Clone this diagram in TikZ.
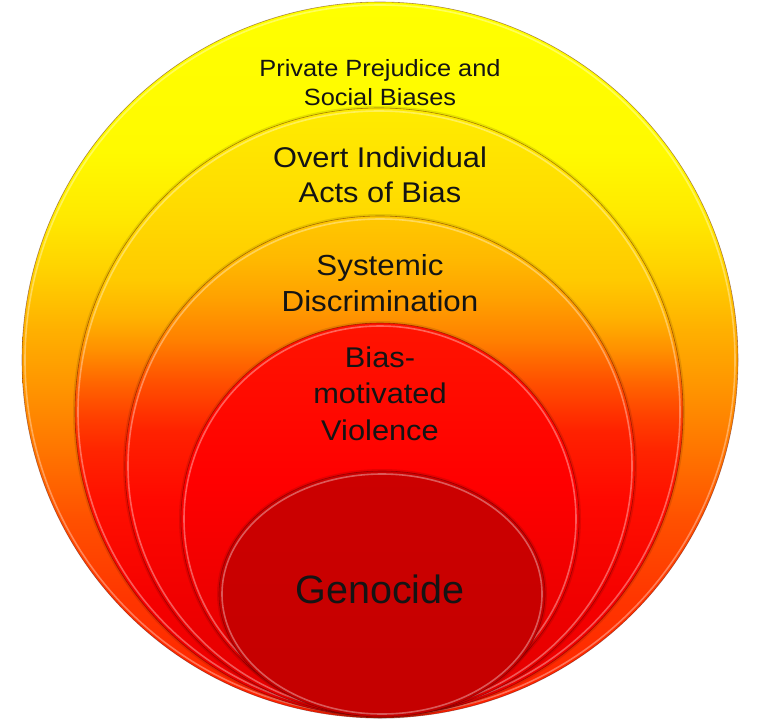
\documentclass[tikz,border=0pt]{standalone}
\usepackage{fontspec}
\setmainfont{Liberation Sans}
\newfontfamily\stretchsans[FakeStretch=1.08]{Liberation Sans}
\newcommand\lstack[2]{\vtop{\baselineskip=#1\lineskiplimit=-100pt\halign{\hfil##\hfil\cr#2\crcr}}}
\newcommand\lblfont[1]{\stretchsans\fontsize{#1}{#1}\selectfont}
\pgfdeclareverticalshading{shA}{100bp}{rgb(0bp)=(1,.125,0); rgb(25bp)=(1,.125,0); rgb(33.2bp)=(1,.208,0); rgb(38.8bp)=(1,.314,0); rgb(43.7bp)=(1,.459,0); rgb(48.6bp)=(1,.596,0); rgb(52.1bp)=(1,.69,0); rgb(56.3bp)=(1,.824,0); rgb(59.8bp)=(1,.91,0); rgb(64.5bp)=(1,.98,0); rgb(75bp)=(1,1,0); rgb(100bp)=(1,1,0)}
\pgfdeclareverticalshading{shB}{100bp}{rgb(0bp)=(.91,0,0); rgb(25bp)=(.91,0,0); rgb(34.5bp)=(.961,0,0); rgb(42.8bp)=(1,.063,0); rgb(46.9bp)=(1,.145,0); rgb(49.6bp)=(1,.251,0); rgb(52.4bp)=(1,.396,0); rgb(55.1bp)=(1,.565,0); rgb(57.8bp)=(1,.698,0); rgb(60.9bp)=(1,.792,0); rgb(67.4bp)=(1,.863,0); rgb(75bp)=(1,.925,0); rgb(100bp)=(1,.925,0)}
\pgfdeclareverticalshading{shC}{100bp}{rgb(0bp)=(.878,0,0); rgb(25bp)=(.878,0,0); rgb(36.6bp)=(.941,0,0); rgb(46.6bp)=(1,.031,0); rgb(53.6bp)=(1,.133,0); rgb(58.6bp)=(1,.322,0); rgb(62.6bp)=(1,.502,0); rgb(66.6bp)=(1,.627,0); rgb(70.6bp)=(1,.722,0); rgb(75bp)=(1,.784,0); rgb(100bp)=(1,.784,0)}
\pgfdeclareverticalshading{shD}{100bp}{rgb(0bp)=(.847,0,0); rgb(25bp)=(.847,0,0); rgb(35bp)=(.91,0,0); rgb(55bp)=(1,0,0); rgb(75bp)=(1,.078,0); rgb(100bp)=(1,.078,0)}
\pgfdeclareverticalshading{shE}{100bp}{rgb(0bp)=(.77,0,0); rgb(25bp)=(.77,0,0); rgb(75bp)=(.80,0,0); rgb(100bp)=(.80,0,0)}
\begin{document}
\begin{tikzpicture}[x=1pt,y=-1pt,
  rimline/.style={draw=black!70!red, draw opacity=0.45, line width=0.6},
  hilite/.style={draw=white, draw opacity=0.35, line width=1.6},
  dropshadow/.style={fill=black, fill opacity=0.10},
  lbl/.style={anchor=base, inner sep=0pt, text=black!92}]
\useasboundingbox (0,0) rectangle (759,720);
% circle 1
\shade[shading=shA] (380,360) ellipse [x radius=358, y radius=358];
\draw[rimline] (380,360) ellipse [x radius=358, y radius=358];
\draw[hilite] (380,360) ellipse [x radius=355, y radius=355];
% circle 2
\fill[dropshadow] (379,412) ellipse [x radius=306, y radius=306];
\shade[shading=shB] (379,412) ellipse [x radius=304, y radius=304];
\draw[rimline] (379,412) ellipse [x radius=304, y radius=304];
\draw[hilite] (379,412) ellipse [x radius=301, y radius=301];
% circle 3
\fill[dropshadow] (380,466) ellipse [x radius=257, y radius=252];
\shade[shading=shC] (380,466) ellipse [x radius=255, y radius=250];
\draw[rimline] (380,466) ellipse [x radius=255, y radius=250];
\draw[hilite] (380,466) ellipse [x radius=252, y radius=247];
% circle 4
\fill[dropshadow] (380,519) ellipse [x radius=201, y radius=198];
\shade[shading=shD] (380,519) ellipse [x radius=199, y radius=196];
\draw[rimline] (380,519) ellipse [x radius=199, y radius=196];
\draw[hilite] (380,519) ellipse [x radius=196, y radius=193];
% circle 5
\fill[dropshadow] (382,594) ellipse [x radius=165, y radius=125];
\shade[shading=shE] (382,594) ellipse [x radius=163, y radius=123];
\draw[rimline] (382,594) ellipse [x radius=163, y radius=123];
\draw[hilite] (382,594) ellipse [x radius=160, y radius=120];
% labels
\node[lbl, font=\lblfont{23.5}] (l1) at (380,76) {\lstack{29pt}{Private Prejudice and\cr Social Biases}};
\node[lbl, font=\lblfont{28.5}] (l2) at (380,167) {\lstack{35pt}{Overt Individual\cr Acts of Bias}};
\node[lbl, font=\lblfont{29}] (l3) at (380,275) {\lstack{36pt}{Systemic\cr Discrimination}};
\node[lbl, font=\lblfont{28.5}] (l4) at (380,367) {\lstack{36.5pt}{Bias-\cr motivated\cr Violence}};
\node[lbl, font=\fontsize{39.5}{40}\selectfont] (l5) at (380,603) {Genocide};
\end{tikzpicture}
\end{document}
